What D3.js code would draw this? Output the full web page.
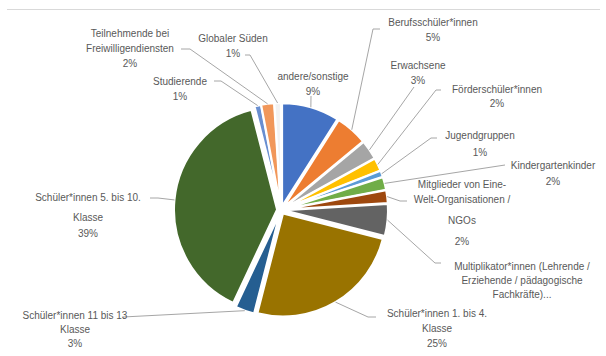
<!DOCTYPE html>
<html>
<head>
<meta charset="utf-8">
<script src="https://cdn.jsdelivr.net/npm/d3@7"></script>
<style>
  body { margin: 0; background: #fff; }
  svg text { font-family: "Liberation Sans", Arial, sans-serif; font-size: 10px; fill: #595959; }
</style>
</head>
<body>
<div id="chart"></div>
<script>
// categories in clockwise order, starting at 12 o'clock
var categories = [
  "andere/sonstige", "Berufsschüler*innen", "Erwachsene", "Förderschüler*innen",
  "Jugendgruppen", "Kindergartenkinder", "Mitglieder von Eine-Welt-Organisationen / NGOs",
  "Multiplikator*innen (Lehrende / Erziehende / pädagogische Fachkräfte)",
  "Schüler*innen 1. bis 4. Klasse", "Schüler*innen 11 bis 13 Klasse",
  "Schüler*innen 5. bis 10. Klasse", "Studierende",
  "Teilnehmende bei Freiwilligendiensten", "Globaler Süden"
];
// percentages
var values = [9, 5, 3, 2, 1, 2, 2, 5, 25, 3, 39, 1, 2, 1];
// text lines of each data label (percent added below, except when cut off)
var labelLines = [
  ["andere/sonstige"],
  ["Berufsschüler*innen"],
  ["Erwachsene"],
  ["Förderschüler*innen"],
  ["Jugendgruppen"],
  ["Kindergartenkinder"],
  ["Mitglieder von Eine-", "Welt-Organisationen /", "NGOs"],
  ["Multiplikator*innen (Lehrende /", "Erziehende / pädagogische", "Fachkräfte)..."],
  ["Schüler*innen 1. bis 4.", "Klasse"],
  ["Schüler*innen 11 bis 13", "Klasse"],
  ["Schüler*innen 5. bis 10.", "Klasse"],
  ["Studierende"],
  ["Teilnehmende bei", "Freiwilligendiensten"],
  ["Globaler Süden"]
];
var showPct = [true, true, true, true, true, true, true, false, true, true, true, true, true, true];

var colors = ["#4472C4", "#ED7D31", "#A5A5A5", "#FFC000", "#5B9BD5", "#70AD47", "#9E480E",
              "#636363", "#997300", "#255E91", "#43682B", "#698ED0", "#F1975A", "#F2F2F2"];

// label placement: text centre x, first baseline y, line height, leader start / elbow
var labelPos = [
  {x: 313, y: 80, lh: 15, start: [311, 96]},
  {x: 433, y: 26, lh: 15, start: [380, 29], elbow: [373, 29]},
  {x: 418, y: 69, lh: 15, start: [414, 87]},
  {x: 497, y: 93, lh: 14, start: [441, 90], elbow: [436, 90]},
  {x: 480, y: 139, lh: 17, start: [437, 138], elbow: [431, 138]},
  {x: 553, y: 169, lh: 16, start: [505, 165]},
  {x: 462, y: 188, lh: 15, lh2: 21, start: [407, 201], elbow: [400, 201]},
  {x: 522, y: 270, lh: 14, start: [441, 263], elbow: [435, 263]},
  {x: 437, y: 317, lh: 15, start: [376, 317], elbow: [368, 317]},
  {x: 75, y: 319, lh: 14, start: [123, 317]},
  {x: 88, y: 201, lh: 20, lh2: 16, start: [150, 198], elbow: [158, 198]},
  {x: 180, y: 85, lh: 15, start: [214, 81], elbow: [221, 81]},
  {x: 130, y: 37, lh: 15, start: [181, 49], elbow: [190, 49]},
  {x: 233, y: 42, lh: 15, start: [245, 55], elbow: [250, 55]}
];

var width = 606, height = 356;
var cx = 281, cy = 210, radius = 103, explode = 4;

var svg = d3.select("#chart").append("svg")
  .attr("width", width)
  .attr("height", height);

// thin frame line at top
svg.append("line")
  .attr("x1", 7).attr("x2", 600)
  .attr("y1", 9.5).attr("y2", 9.5)
  .attr("stroke", "#d9d9d9")
  .attr("stroke-width", 1);

var data = categories.map(function(c, i) {
  return {name: c, value: values[i], color: colors[i], lines: labelLines[i], pct: showPct[i], pos: labelPos[i]};
});

var pie = d3.pie().sort(null).value(function(d) { return d.value; });
var arcs = pie(data);

var arc = d3.arc().innerRadius(0).outerRadius(radius);

function offset(a, r) {
  var m = (a.startAngle + a.endAngle) / 2;
  return [Math.sin(m) * r, -Math.cos(m) * r];
}

var chartGroup = svg.append("g")
  .attr("transform", `translate(${cx}, ${cy})`);

chartGroup.selectAll(".slice")
  .data(arcs)
  .enter()
  .append("path")
  .classed("slice", true)
  .attr("transform", function(d) { var o = offset(d, explode); return `translate(${o[0]}, ${o[1]})`; })
  .attr("d", arc)
  .attr("fill", function(d) { return d.data.color; })
  .attr("stroke", "#fff")
  .attr("stroke-width", 2);

// leader lines
var lineGen = d3.line();
svg.selectAll(".leader")
  .data(arcs)
  .enter()
  .append("path")
  .classed("leader", true)
  .attr("d", function(d) {
    var p = d.data.pos;
    var o = offset(d, radius + explode);
    var pts = [p.start];
    if (p.elbow) pts.push(p.elbow);
    pts.push([cx + o[0], cy + o[1]]);
    return lineGen(pts);
  })
  .attr("fill", "none")
  .attr("stroke", "#a6a6a6")
  .attr("stroke-width", 1);

// data labels
var labels = svg.selectAll(".label")
  .data(data)
  .enter()
  .append("text")
  .classed("label", true)
  .attr("text-anchor", "middle")
  .attr("x", function(d) { return d.pos.x; })
  .attr("y", function(d) { return d.pos.y; });

labels.each(function(d) {
  var t = d3.select(this);
  var lines = d.lines.slice();
  if (d.pct) lines.push(d.value + "%");
  lines.forEach(function(s, i) {
    var dy = 0;
    if (i > 0) dy = (i === lines.length - 1 && d.pos.lh2) ? d.pos.lh2 : d.pos.lh;
    if (i === 2 && d.pos.lh2 && lines.length === 4) dy = d.pos.lh2;
    t.append("tspan")
      .attr("x", d.pos.x)
      .attr("dy", dy)
      .text(s);
  });
});
</script>
</body>
</html>
